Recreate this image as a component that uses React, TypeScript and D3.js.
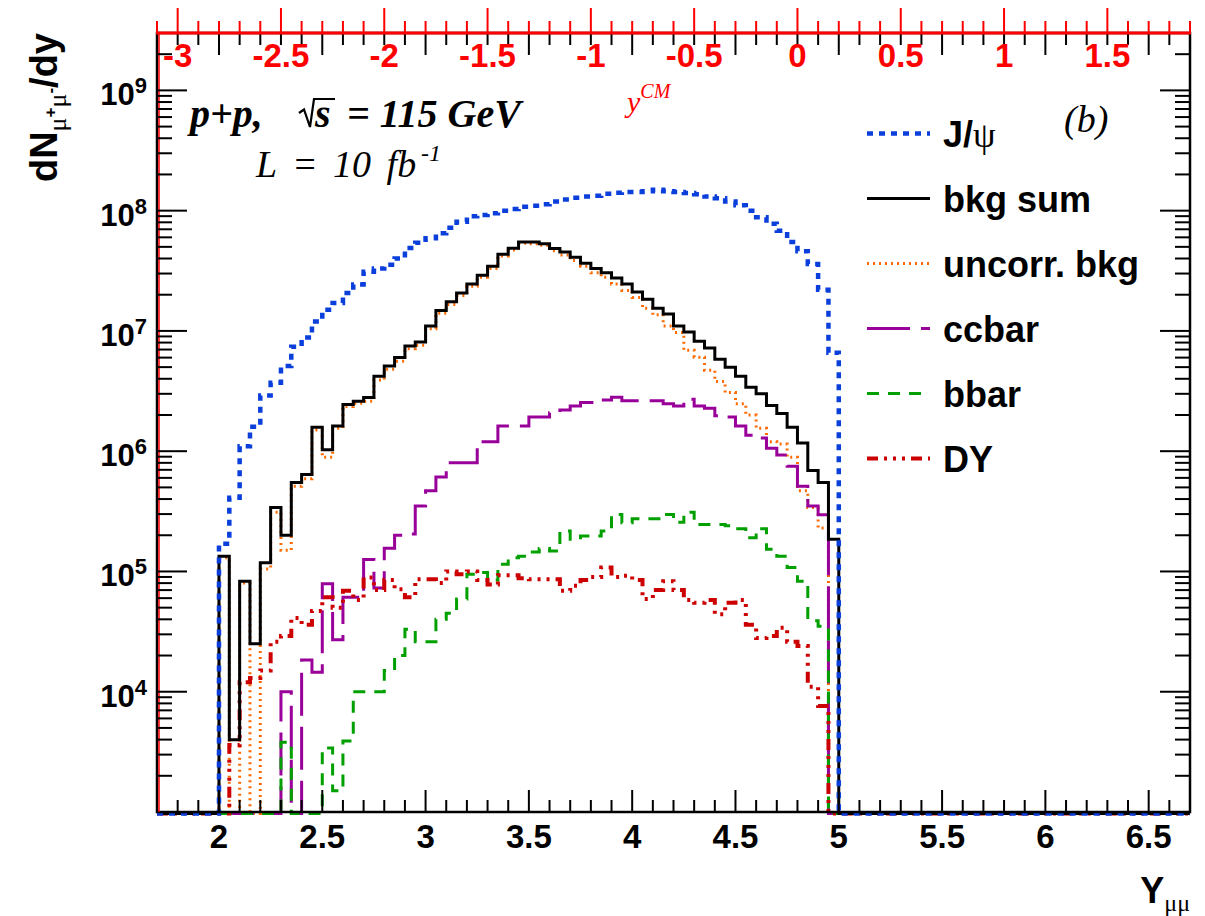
import React from "react";
import * as d3 from "d3";

// ---------------- data (60 bins, 2.0 .. 5.0, width 0.05) ----------------
const binStart = 2.0;
const binWidth = 0.05;

const jpsi = [
  1.7e5, 4.1e5, 1.1e6, 1.6e6, 2.9e6, 3.7e6, 5.1e6, 7.4e6, 8.8e6, 1.2e7,
  1.5e7, 1.71e7, 2.07e7, 2.43e7, 3.1e7, 3.3e7, 3.55e7, 4.0e7, 4.9e7, 5.4e7,
  5.9e7, 6.5e7, 7.2e7, 8.1e7, 9.0e7, 9.2e7, 9.5e7, 1.0e8, 1.03e8, 1.08e8,
  1.1e8, 1.13e8, 1.19e8, 1.24e8, 1.28e8, 1.31e8, 1.33e8, 1.38e8, 1.41e8, 1.43e8,
  1.43e8, 1.45e8, 1.49e8, 1.45e8, 1.43e8, 1.4e8, 1.37e8, 1.31e8, 1.27e8, 1.19e8,
  1.11e8, 1.0e8, 8.8e7, 7.8e7, 6.8e7, 5.5e7, 4.6e7, 3.6e7, 2.2e7, 6.6e6,
];

const bkgSum = [
  1.34e5, 3.98e3, 8.3e4, 2.5e4, 1.18e5, 3.4e5, 2.0e5, 5.5e5, 6.4e5, 1.58e6,
  1.03e6, 1.62e6, 2.44e6, 2.6e6, 2.8e6, 4.2e6, 5.1e6, 6.0e6, 7.5e6, 8.1e6,
  1.1e7, 1.48e7, 1.75e7, 2.07e7, 2.46e7, 2.91e7, 3.45e7, 4.35e7, 4.86e7, 5.5e7,
  5.5e7, 5.3e7, 4.85e7, 4.54e7, 4.1e7, 3.66e7, 3.3e7, 3.04e7, 2.75e7, 2.46e7,
  2.11e7, 1.83e7, 1.54e7, 1.38e7, 1.1e7, 9.8e6, 8.2e6, 7.2e6, 5.8e6, 5.0e6,
  4.2e6, 3.4e6, 3.0e6, 2.4e6, 2.06e6, 1.58e6, 1.17e6, 6.9e5, 5.5e5, 1.85e5,
];

const uncorr = [
  1.3e5, 0, 8.0e4, 0, 1.05e5, 3.1e5, 1.5e5, 5.1e5, 5.9e5, 1.5e6,
  8.9e5, 1.55e6, 2.35e6, 2.5e6, 2.6e6, 3.9e6, 4.8e6, 5.6e6, 7.1e6, 7.6e6,
  1.04e7, 1.4e7, 1.66e7, 1.97e7, 2.35e7, 2.8e7, 3.3e7, 4.2e7, 4.7e7, 5.35e7,
  5.3e7, 5.15e7, 4.65e7, 4.28e7, 3.85e7, 3.45e7, 3.04e7, 2.79e7, 2.46e7, 2.17e7,
  1.9e7, 1.54e7, 1.36e7, 1.1e7, 9.7e6, 6.9e6, 6.05e6, 4.7e6, 3.8e6, 3.07e6,
  2.48e6, 2.0e6, 1.55e6, 1.2e6, 1.15e6, 8.9e5, 4.7e5, 3.4e5, 2.3e5, 0,
];

const ccbar = [
  0, 0, 0, 0, 0, 0, 1.0e4, 0, 1.84e4, 1.45e4,
  7.9e4, 2.7e4, 6.1e4, 6.1e4, 1.26e5, 7.3e4, 1.56e5, 2.0e5, 2.05e5, 3.5e5,
  4.7e5, 6.1e5, 8.0e5, 8.0e5, 8.0e5, 1.2e6, 1.2e6, 1.62e6, 1.62e6, 1.62e6,
  1.92e6, 1.92e6, 2.09e6, 2.2e6, 2.37e6, 2.54e6, 2.54e6, 2.67e6, 2.81e6, 2.63e6,
  2.63e6, 2.63e6, 2.63e6, 2.48e6, 2.37e6, 2.7e6, 2.37e6, 2.28e6, 1.97e6, 1.92e6,
  1.62e6, 1.36e6, 1.29e6, 1.06e6, 9.3e5, 7.5e5, 5.1e5, 3.5e5, 2.96e5, 0,
];

const bbar = [
  0, 0, 0, 0, 0, 0, 3.8e3, 0, 0, 0,
  3.4e3, 1.5e3, 3.9e3, 1.0e4, 1.0e4, 1.0e4, 1.5e4, 2.0e4, 3.3e4, 2.6e4,
  2.6e4, 4.0e4, 4.5e4, 5.9e4, 9.5e4, 9.8e4, 8.5e4, 1.15e5, 1.3e5, 1.34e5,
  1.45e5, 1.55e5, 1.48e5, 2.17e5, 1.85e5, 1.97e5, 1.97e5, 2.17e5, 2.98e5, 2.54e5,
  2.74e5, 2.74e5, 2.74e5, 2.98e5, 2.57e5, 3.1e5, 2.46e5, 2.46e5, 2.46e5, 2.4e5,
  2.27e5, 1.91e5, 2.27e5, 1.53e5, 1.34e5, 1.08e5, 8.3e4, 3.9e4, 3.5e4, 0,
];

const drellYan = [
  0, 3.6e3, 1.2e4, 1.3e4, 1.5e4, 2.6e4, 2.9e4, 4.1e4, 3.6e4, 4.7e4,
  6.1e4, 5.0e4, 6.9e4, 5.8e4, 8.9e4, 7.0e4, 8.5e4, 7.1e4, 6.1e4, 8.6e4,
  8.6e4, 8.0e4, 1.0e5, 9.5e4, 1.0e5, 8.5e4, 7.8e4, 9.3e4, 9.3e4, 8.8e4,
  8.6e4, 8.6e4, 8.6e4, 6.9e4, 7.6e4, 8.5e4, 9.0e4, 1.08e5, 9.0e4, 9.2e4,
  8.5e4, 5.9e4, 7.0e4, 8.3e4, 7.0e4, 5.8e4, 5.5e4, 5.8e4, 4.4e4, 5.5e4,
  5.8e4, 3.6e4, 2.8e4, 2.9e4, 3.4e4, 2.6e4, 2.4e4, 1.1e4, 7.6e3, 0,
];

const bottomTickValues = [2, 2.5, 3, 3.5, 4, 4.5, 5, 5.5, 6, 6.5];
const bottomTickLabels = ["2", "2.5", "3", "3.5", "4", "4.5", "5", "5.5", "6", "6.5"];
const topTickValues = [-3, -2.5, -2, -1.5, -1, -0.5, 0, 0.5, 1, 1.5];
const topTickLabels = ["-3", "-2.5", "-2", "-1.5", "-1", "-0.5", "0", "0.5", "1", "1.5"];
const yExponents = [4, 5, 6, 7, 8, 9];

// ---------------- layout ----------------
const W = 1205;
const H = 916;
const L = 157, R = 1190, T = 33, B = 812;
const X_MIN = 1.7, X_MAX = 6.7, Y_SHIFT = 4.8;
const Y_MIN = 1000, Y_MAX = 3e9;

const x = d3.scaleLinear().domain([X_MIN, X_MAX]).range([L, R]);
const xTop = d3.scaleLinear().domain([X_MIN - Y_SHIFT, X_MAX - Y_SHIFT]).range([L, R]);
const y = d3.scaleLog().domain([Y_MIN, Y_MAX]).range([B, T]);

const SANS = "'Liberation Sans', Arial, Helvetica, sans-serif";
const SERIF = "'Liberation Serif', 'Times New Roman', serif";

function histPath(vals: number[]): string {
  const yb = B + 1.5;
  const yv = (v: number) => (v > Y_MIN ? y(v) : yb);
  let p = `M${x(X_MIN)},${yb}L${x(binStart)},${yb}`;
  vals.forEach((v, i) => {
    const x0 = x(binStart + i * binWidth);
    const x1 = x(binStart + (i + 1) * binWidth);
    p += `L${x0},${yv(v)}L${x1},${yv(v)}`;
  });
  p += `L${x(binStart + vals.length * binWidth)},${yb}L${x(X_MAX)},${yb}`;
  return p;
}

const series = [
  { key: "uncorr", values: uncorr, color: "#ff6a00", width: 3, dash: "2 4" },
  { key: "ccbar", values: ccbar, color: "#990099", width: 3, dash: "43 11" },
  { key: "bbar", values: bbar, color: "#00a000", width: 3, dash: "12 9" },
  { key: "dy", values: drellYan, color: "#cc0000", width: 4, dash: "11 6 3 6 3 6 3 6" },
  { key: "bkg", values: bkgSum, color: "#000000", width: 3, dash: "" },
  { key: "jpsi", values: jpsi, color: "#0a3fdc", width: 4.5, dash: "6 6" },
];

const legendRows = [
  { label: "J/", psi: true, color: "#0a3fdc", width: 4.5, dash: "6 6" },
  { label: "bkg sum", color: "#000000", width: 3, dash: "" },
  { label: "uncorr. bkg", color: "#ff6a00", width: 3, dash: "2 4" },
  { label: "ccbar", color: "#990099", width: 3, dash: "43 11" },
  { label: "bbar", color: "#00a000", width: 3, dash: "12 9" },
  { label: "DY", color: "#cc0000", width: 4, dash: "11 6 3 6 3 6 3 6" },
];

export default function App() {
  const xMinor: { v: number; major: boolean }[] = [];
  for (let i = 18; i <= 67; i++) xMinor.push({ v: i / 10, major: i % 5 === 0 });
  const topMinor: { v: number; major: boolean }[] = [];
  for (let i = -31; i <= 19; i++) topMinor.push({ v: i / 10, major: i % 5 === 0 });
  const yTicks: { v: number; major: boolean }[] = [];
  for (let e = 3; e <= 9; e++) {
    for (let m = 1; m <= 9; m++) {
      const v = m * Math.pow(10, e);
      if (v > Y_MIN && v <= Y_MAX) yTicks.push({ v, major: m === 1 });
    }
  }

  return (
    <svg width={W} height={H} viewBox={`0 0 ${W} ${H}`} style={{ display: "block", position: "absolute", left: 0, top: 0, background: "#fff" }}>
      <rect x={0} y={0} width={W} height={H} fill="#fff" />

      {/* histograms */}
      {series.map((s) => (
        <path
          key={s.key}
          d={histPath(s.values)}
          fill="none"
          stroke={s.color}
          strokeWidth={s.width}
          strokeDasharray={s.dash || undefined}
          strokeLinejoin="miter"
        />
      ))}

      {/* frame */}
      <rect x={L} y={T} width={R - L} height={B - T} fill="none" stroke="#000" strokeWidth={2.5} />
      <line x1={L + 2} y1={T} x2={L + 2} y2={B} stroke="#ff0000" strokeWidth={1.5} />

      {/* bottom axis ticks + mirrored top ticks */}
      {xMinor.map((t, i) => (
        <g key={"xb" + i}>
          <line x1={x(t.v)} x2={x(t.v)} y1={B} y2={B - (t.major ? 22 : 12)} stroke="#000" strokeWidth={2} />
          <line x1={x(t.v)} x2={x(t.v)} y1={T} y2={T + (t.major ? 22 : 12)} stroke="#000" strokeWidth={2} />
        </g>
      ))}
      {bottomTickValues.map((v, i) => (
        <text key={"xl" + i} x={x(v)} y={848} textAnchor="middle" fontFamily={SANS} fontWeight="bold" fontSize={33} fill="#000">
          {bottomTickLabels[i]}
        </text>
      ))}

      {/* left / right log ticks */}
      {yTicks.map((t, i) => (
        <g key={"yt" + i}>
          <line x1={L} x2={L + (t.major ? 30 : 15)} y1={y(t.v)} y2={y(t.v)} stroke="#000" strokeWidth={2} />
          <line x1={R} x2={R - (t.major ? 30 : 15)} y1={y(t.v)} y2={y(t.v)} stroke="#000" strokeWidth={2} />
        </g>
      ))}
      {yExponents.map((e) => (
        <text key={"yl" + e} x={147} y={y(Math.pow(10, e)) + 15} textAnchor="end" fontFamily={SANS} fontWeight="bold" fontSize={31} fill="#000">
          10<tspan dy={-12} fontSize={22}>{e}</tspan>
        </text>
      ))}

      {/* top (red) y_CM axis */}
      {topMinor.map((t, i) => (
        <line key={"tt" + i} x1={xTop(t.v)} x2={xTop(t.v)} y1={T} y2={T - (t.major ? 25 : 12)} stroke="#ff0000" strokeWidth={2} />
      ))}
      <line x1={L - 1} x2={R + 1} y1={T} y2={T} stroke="#ff0000" strokeWidth={3} />
      {topTickValues.map((v, i) => (
        <text key={"tl" + i} x={xTop(v)} y={67} textAnchor="middle" fontFamily={SANS} fontWeight="bold" fontSize={33} fill="#ff0000">
          {topTickLabels[i]}
        </text>
      ))}
      <text x={627} y={112} fontFamily={SERIF} fontStyle="italic" fontSize={30} fill="#ff0000">
        y<tspan dy={-14} fontSize={20}>CM</tspan>
      </text>

      {/* axis titles */}
      <text transform={`translate(57,${T}) rotate(-90)`} textAnchor="end" fontFamily={SANS} fontWeight="bold" fontSize={38} fill="#000">
        dN
        <tspan dy={9} fontSize={26} fontWeight="normal" fontFamily={SERIF}>μ</tspan>
        <tspan dy={-10} fontSize={17}>+</tspan>
        <tspan dy={10} fontSize={26} fontWeight="normal" fontFamily={SERIF}>μ</tspan>
        <tspan dy={-10} fontSize={17}>-</tspan>
        <tspan dy={1}>/dy</tspan>
      </text>
      <text x={R} y={903} textAnchor="end" fontFamily={SANS} fontWeight="bold" fontSize={36} fill="#000">
        Y<tspan dy={8} fontSize={24} fontWeight="normal" fontFamily={SERIF}>μμ</tspan>
      </text>

      {/* annotations */}
      <g fontFamily={SERIF} fontStyle="italic" fill="#000">
        <text x={190} y={127} fontWeight="bold" fontSize={40}>p+p,</text>
        <path d="M299,113 L304,109.5 L310,127 L314,99 L335,99" fill="none" stroke="#000" strokeWidth={2.2} strokeLinejoin="miter" />
        <text x={315} y={127} fontWeight="bold" fontSize={40}>s</text>
        <text x={347} y={127} fontWeight="bold" fontSize={40}>= 115 GeV</text>
        <text x={256} y={177} fontSize={38} wordSpacing={6}>L = 10 fb</text>
        <text x={421} y={161} fontSize={24}>-1</text>
        <text x={1064} y={132} fontSize={38}>(b)</text>
      </g>

      {/* legend */}
      {legendRows.map((r, i) => {
        const ly = 133.5 + i * 65;
        return (
          <g key={"lg" + i}>
            <line x1={867} x2={930} y1={ly} y2={ly} stroke={r.color} strokeWidth={r.width} strokeDasharray={r.dash || undefined} />
            <text x={943} y={ly + 13} fontFamily={SANS} fontWeight="bold" fontSize={36} fill="#000">
              {r.label}
              {r.psi ? <tspan fontWeight="normal" fontFamily={SERIF} fontSize={36}>ψ</tspan> : null}
            </text>
          </g>
        );
      })}
    </svg>
  );
}
